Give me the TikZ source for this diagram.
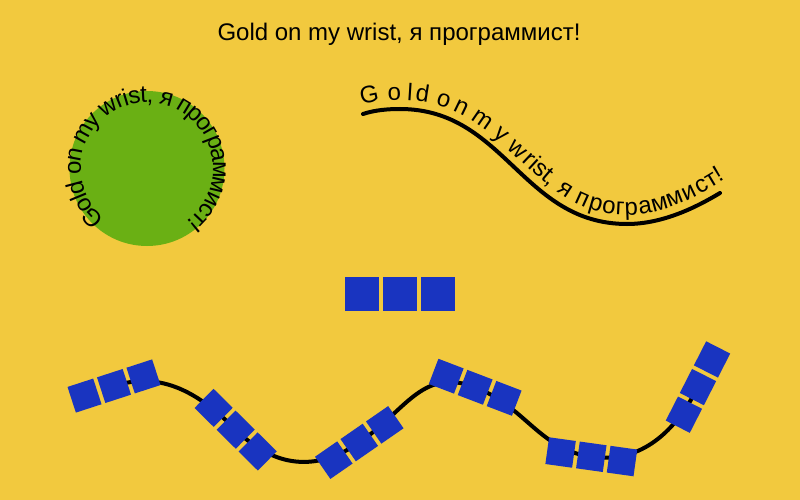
\documentclass[tikz,border=0pt]{standalone}
\usepackage{fontspec}
\setmainfont{Liberation Sans}
\usetikzlibrary{decorations.text,decorations.markings}
\definecolor{bgc}{HTML}{F2C93E}
\definecolor{grn}{HTML}{6AB014}
\definecolor{blu}{HTML}{1934C0}
\newcommand\tsz{\fontsize{24}{29}\selectfont}
\newcommand\toppath{(363,114) .. controls (375,110) and (388,109) .. (400,109) .. controls (505,109) and (522,224) .. (627,224) .. controls (665,224) and (700,205) .. (720,193)}
\newcommand\wavetext[2]{\path[decorate,decoration={text along path,raise=9pt,text align={left indent=#1pt},text={|\tsz|#2}}] \toppath -- ++(30,-18);}
\newcommand\trio{\fill[blu] (-44.5,-13.5) rectangle (-17.5,13.5) (-13.5,-13.5) rectangle (13.5,13.5) (17.5,-13.5) rectangle (44.5,13.5);}
\tikzset{
  curve/.style={line width=4pt, line cap=round, black},
  bsq/.style={fill=blu, minimum size=34pt, inner sep=0pt, outer sep=0pt},
  titletext/.style={font=\tsz, inner sep=0pt}
}
\begin{document}
\begin{tikzpicture}[x=1pt,y=-1pt]
\fill[bgc] (0,0) rectangle (800,500);
\useasboundingbox (0,0) rectangle (800,500);
% title
\node[titletext, anchor=base] (title) at (399,40.5) {Gold on my wrist, я программист!};
% circle with text
\fill[grn] (147,168.5) circle[radius=77.5];
\path[decorate,decoration={text along path,raise=-11.5pt,text align=fit to path,text={|\tsz|Gold on my wrist, я программист!}}] (147,168.5) ++(131:77.5) arc[start angle=131,end angle=413,radius=77.5];
% wave with text
\draw[curve] \toppath;
\wavetext{0.5}{G}
\wavetext{25.6}{o}
\wavetext{43.8}{l}
\wavetext{51}{d}
\wavetext{70.3}{o}
\wavetext{87.1}{n}
\wavetext{105.9}{m}
\wavetext{132.8}{y}
\wavetext{151.1}{w}
\wavetext{171.3}{rist,}
\wavetext{218.3}{я}
\wavetext{240.2}{п}
\wavetext{257}{р}
\wavetext{272.4}{о}
\wavetext{287.3}{г}
\wavetext{297.7}{р}
\wavetext{313.5}{а}
\wavetext{328.5}{м}
\wavetext{345.7}{м}
\wavetext{364.2}{и}
\wavetext{380}{с}
\wavetext{393.2}{т}
\wavetext{403.5}{!}
% centre squares
\node[bsq] (s1) at (362,294) {};
\node[bsq] (s2) at (400,294) {};
\node[bsq] (s3) at (438,294) {};
% bottom curve with square groups
\draw[curve, line cap=butt, postaction={decorate}, decoration={markings,
  mark=at position 0 with {\trio},
  mark=at position 0.2 with {\trio},
  mark=at position 0.4 with {\trio},
  mark=at position 0.6 with {\trio},
  mark=at position 0.8 with {\trio},
  mark=at position 0.9999 with {\trio}}]
  (114,386) .. controls (161.6,370.5) and (199.6,393.6) .. (235,429)
  .. controls (273.2,467.2) and (315.8,473) .. (360,442)
  .. controls (407.5,408.7) and (423.2,366.3) .. (477,388)
  .. controls (526,407.8) and (540.6,450.6) .. (593,457)
  .. controls (642,463) and (675.6,431) .. (698,387);
\end{tikzpicture}
\end{document}
